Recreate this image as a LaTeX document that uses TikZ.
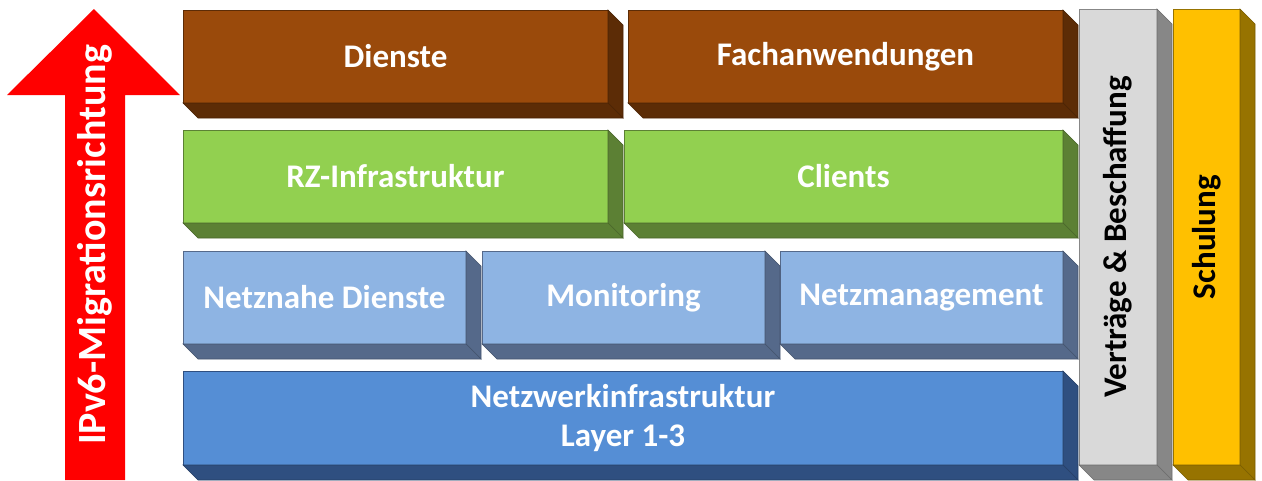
\documentclass[tikz,border=0pt]{standalone}
\usepackage{fontspec}
\setmainfont{Carlito}
\usepackage{graphicx}
\usetikzlibrary{positioning,calc}

\definecolor{brownfront}{HTML}{9A4A0B}
\definecolor{brownside}{HTML}{5C2C06}
\definecolor{greenfront}{HTML}{92D050}
\definecolor{greenside}{HTML}{5C8034}
\definecolor{lbluefront}{HTML}{8EB4E3}
\definecolor{lblueside}{HTML}{55698A}
\definecolor{bluefront}{HTML}{558ED5}
\definecolor{blueside}{HTML}{2F4F80}
\definecolor{grayfront}{HTML}{D9D9D9}
\definecolor{grayside}{HTML}{878787}
\definecolor{yellowfront}{HTML}{FFC000}
\definecolor{yellowside}{HTML}{977300}
\definecolor{migred}{HTML}{FF0000}

\begin{document}
\begin{tikzpicture}[x=1pt, y=-1pt, every node/.style={font=\bfseries\fontsize{33}{39}\selectfont, inner sep=0pt, outer sep=0pt},
  blk/.style 2 args={fill=#1, draw=#2, line width=.6pt, text=white, align=center},
  side/.style={fill=#1, draw=#1!80!black, line width=.6pt}]
\useasboundingbox (0,0) rectangle (1262,480);
% Migrationspfeil
\fill[migred] (65,480) -- (65,95) -- (7,95) -- (94,9) -- (180,95) -- (125,95) -- (125,480) -- cycle;
\node[rotate=90, text=white, font=\bfseries\fontsize{40}{42}\selectfont] (mig) at (95,245) {IPv6-Migrationsrichtung};
% Schichten
\node[blk={brownfront}{brownside}, minimum width=425, minimum height=93] (dienste) at (395.5,56.5) {Dienste};
\node[blk={brownfront}{brownside}, minimum width=435, minimum height=93] (fach) at (845.5,56.5) {Fachanwendungen};
\node[blk={greenfront}{greenside}, minimum width=425, minimum height=93] (rz) at (395.5,176.5) {RZ-Infrastruktur};
\node[blk={greenfront}{greenside}, minimum width=439, minimum height=93] (clients) at (843.5,176.5) {Clients};
\node[blk={lbluefront}{lblueside}, minimum width=283, minimum height=93] (netznah) at (324.5,297.5) {Netznahe Dienste};
\node[blk={lbluefront}{lblueside}, minimum width=283, minimum height=93] (monitor) at (623.5,297.5) {Monitoring};
\node[blk={lbluefront}{lblueside}, minimum width=283, minimum height=93] (netzmgmt) at (921.5,297.5) {Netzmanagement};
\node[blk={bluefront}{blueside}, minimum width=880, minimum height=94] (netzwerk) at (623,418) {Netzwerkinfrastruktur\\Layer 1-3};
% Querschnitt
\node[blk={grayfront}{grayside}, text=black, minimum width=78, minimum height=456] (vertrag) at (1118,237) {\rotatebox{90}{Verträge \& Beschaffung}};
\node[blk={yellowfront}{yellowside}, text=black, minimum width=67, minimum height=456] (schulung) at (1206.5,237) {\rotatebox{90}{Schulung}};
% Tiefe
\foreach \n/\c in {dienste/brownside, fach/brownside, rz/greenside, clients/greenside, netznah/lblueside, monitor/lblueside, netzmgmt/lblueside, netzwerk/blueside, vertrag/grayside, schulung/yellowside}{
  \filldraw[side=\c] (\n.north east) -- ++(15,15) -- ([shift={(15,15)}]\n.south east) -- (\n.south east) -- cycle;
  \filldraw[side=\c] (\n.south west) -- ([shift={(15,15)}]\n.south west) -- ([shift={(15,15)}]\n.south east) -- (\n.south east) -- cycle;
}
\end{tikzpicture}
\end{document}
